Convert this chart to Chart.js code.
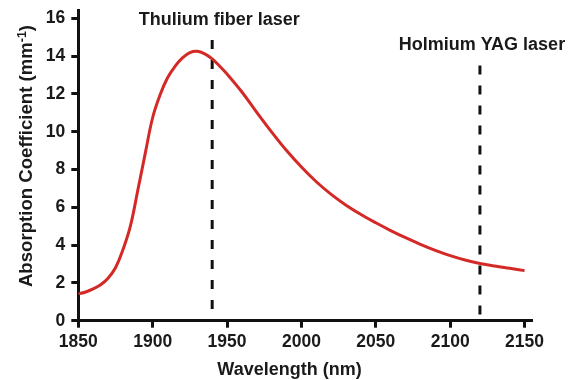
<!DOCTYPE html>
<html>
<head>
<meta charset="utf-8">
<script src="https://cdn.jsdelivr.net/npm/chart.js@4/dist/chart.umd.min.js"></script>
<style>
  html, body { margin: 0; padding: 0; background: #ffffff; }
  #wrap { width: 570px; height: 380px; }
</style>
</head>
<body>
<div id="wrap"><canvas id="c" width="570" height="380"></canvas></div>
<script>
// ---- data ----
const wavelengths = [1850, 1855, 1860, 1865, 1870, 1875, 1880, 1885, 1890, 1895, 1900, 1905, 1910, 1915, 1920, 1925, 1930, 1935, 1940, 1945, 1950, 1960, 1970, 1980, 1990, 2000, 2010, 2020, 2030, 2040, 2050, 2060, 2070, 2080, 2090, 2100, 2110, 2120, 2130, 2140, 2150];
const absorption  = [1.42, 1.52, 1.68, 1.90, 2.25, 2.80, 3.75, 5.00, 6.90, 8.85, 10.75, 11.95, 12.85, 13.45, 13.90, 14.18, 14.25, 14.12, 13.85, 13.47, 13.05, 12.10, 11.02, 9.98, 9.00, 8.13, 7.35, 6.68, 6.11, 5.62, 5.18, 4.77, 4.39, 4.04, 3.72, 3.44, 3.21, 3.03, 2.89, 2.77, 2.65];

const laserNames = ["Thulium fiber laser", "Holmium YAG laser"];
const laserWavelengths = [1940, 2120];
const laserLineTops = [14.85, 13.5];

const xTickValues = [1850, 1900, 1950, 2000, 2050, 2100, 2150];
const yTickValues = [0, 2, 4, 6, 8, 10, 12, 14, 16];

const xTitle = "Wavelength (nm)";
const yTitleMain = "Absorption Coefficient (mm";
const yTitleSup = "-1";
const yTitleEnd = ")";

// ---- build chart ----
const FONT = '"Liberation Sans", Arial, Helvetica, sans-serif';
const curvePoints = wavelengths.map((w, i) => ({ x: w, y: absorption[i] }));

const laserDatasets = laserWavelengths.map((w, i) => ({
  label: laserNames[i],
  data: [{ x: w, y: laserLineTops[i] }, { x: w, y: 0 }],
  borderColor: '#111111',
  borderWidth: 3,
  borderDash: [9, 11],
  pointRadius: 0,
  fill: false,
  tension: 0,
  order: 2
}));

const textPlugin = {
  id: 'texts',
  afterDraw(chart) {
    const ctx = chart.ctx;
    const xs = chart.scales.x, ys = chart.scales.y;
    ctx.save();
    ctx.fillStyle = '#1a1a1a';
    ctx.textAlign = 'center';
    ctx.textBaseline = 'middle';
    ctx.font = 'bold 18px ' + FONT;
    const dx = [7, 2];
    laserNames.forEach((name, i) => {
      const px = xs.getPixelForValue(laserWavelengths[i]) + dx[i];
      const py = ys.getPixelForValue(laserLineTops[i]) - 20;
      ctx.fillText(name, px, py);
    });
    // x title
    ctx.fillText(xTitle, 289.5, 370);
    // y title (rotated, with superscript)
    ctx.translate(25, 156);
    ctx.rotate(-Math.PI / 2);
    ctx.textAlign = 'left';
    ctx.textBaseline = 'alphabetic';
    const mainFont = 'bold 18.6px ' + FONT;
    const supFont = 'bold 12.5px ' + FONT;
    ctx.font = mainFont;
    const w1 = ctx.measureText(yTitleMain).width;
    const w3 = ctx.measureText(yTitleEnd).width;
    ctx.font = supFont;
    const w2 = ctx.measureText(yTitleSup).width;
    const total = w1 + w2 + w3;
    let x0 = -total / 2;
    const base = 6.5;
    ctx.font = mainFont;
    ctx.fillText(yTitleMain, x0, base);
    ctx.font = supFont;
    ctx.fillText(yTitleSup, x0 + w1, base - 6);
    ctx.font = mainFont;
    ctx.fillText(yTitleEnd, x0 + w1 + w2, base);
    ctx.restore();
  }
};

new Chart(document.getElementById('c'), {
  type: 'line',
  data: {
    datasets: [
      {
        label: 'Absorption coefficient',
        data: curvePoints,
        borderColor: '#d42a27',
        borderWidth: 3,
        pointRadius: 0,
        fill: false,
        tension: 0.4,
        order: 1
      },
      ...laserDatasets
    ]
  },
  options: {
    responsive: false,
    animation: false,
    layout: { padding: { left: 0, right: 38, top: 10.7, bottom: 0 } },
    plugins: {
      legend: { display: false },
      tooltip: { enabled: false }
    },
    scales: {
      x: {
        type: 'linear',
        min: 1850,
        max: 2155,
        afterBuildTicks(scale) { scale.ticks = xTickValues.map(v => ({ value: v })); },
        afterFit(scale) { scale.height = 59.3; scale.paddingLeft = 0; scale.paddingRight = 0; },
        ticks: {
          includeBounds: false,
          color: '#1a1a1a',
          font: { family: FONT, size: 17.5, weight: 'bold' },
          padding: 4,
          maxRotation: 0,
          callback: v => String(v)
        },
        grid: {
          display: true,
          drawOnChartArea: false,
          drawTicks: true,
          tickLength: 7,
          tickWidth: 3,
          tickColor: '#111111'
        },
        border: { display: true, color: '#111111', width: 3 }
      },
      y: {
        type: 'linear',
        min: 0,
        max: 16.4,
        afterBuildTicks(scale) { scale.ticks = yTickValues.map(v => ({ value: v })); },
        afterFit(scale) { scale.width = 78.3; scale.paddingTop = 0; scale.paddingBottom = 0; },
        ticks: {
          includeBounds: false,
          color: '#1a1a1a',
          font: { family: FONT, size: 17.5, weight: 'bold' },
          padding: 6,
          callback: v => String(v)
        },
        grid: {
          display: true,
          drawOnChartArea: false,
          drawTicks: true,
          tickLength: 7,
          tickWidth: 3,
          tickColor: '#111111'
        },
        border: { display: true, color: '#111111', width: 3 }
      }
    }
  },
  plugins: [textPlugin]
});
</script>
</body>
</html>
